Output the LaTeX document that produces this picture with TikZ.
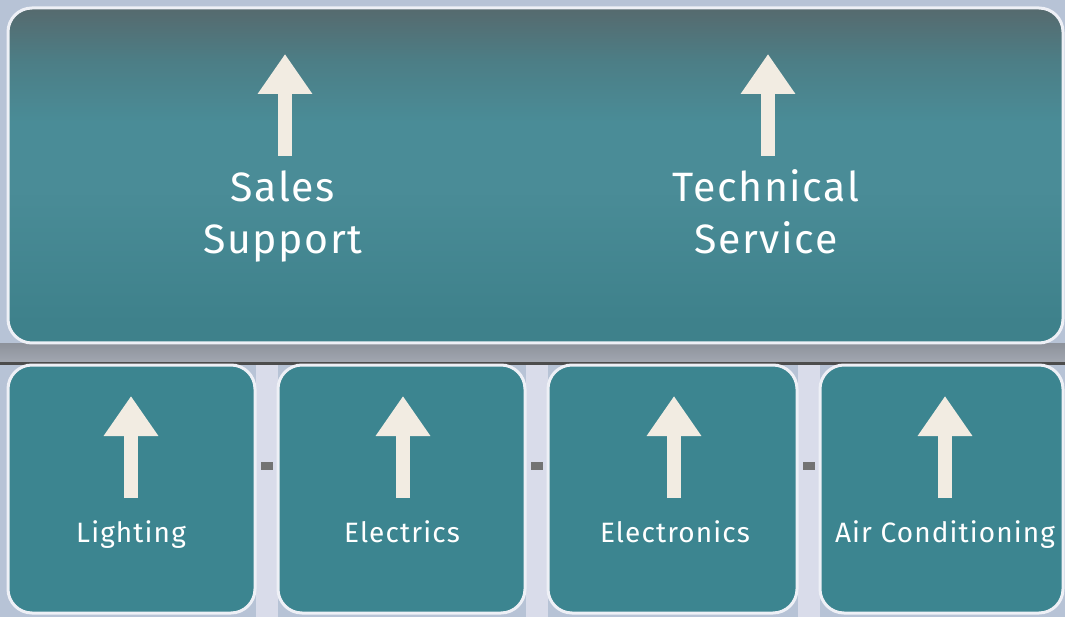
\documentclass[tikz,border=0pt]{standalone}
\usepackage{fontspec}
\setmainfont{Fira Sans}[LetterSpace=4]
\usetikzlibrary{arrows.meta}
\definecolor{bgc}{HTML}{B7C3D6}
\definecolor{bar}{HTML}{8E939C}
\definecolor{barlo}{HTML}{A3A8B2}
\definecolor{pillar}{HTML}{D9DCEA}
\definecolor{tealtop}{HTML}{566A6E}
\definecolor{tealup}{HTML}{4C7E86}
\definecolor{tealmid}{HTML}{4A8C97}
\definecolor{tealbot}{HTML}{3E818B}
\definecolor{tealb1}{HTML}{3C8590}
\definecolor{tealb2}{HTML}{4A939E}
\definecolor{arrowc}{HTML}{F2ECE2}
\definecolor{rim}{HTML}{EEF0F6}
\pgfdeclareverticalshading{topshade}{100bp}{color(0bp)=(tealbot); color(28bp)=(tealbot); color(48bp)=(tealmid); color(58bp)=(tealmid); color(67bp)=(tealup); color(75bp)=(tealtop); color(100bp)=(tealtop)}
\tikzset{
  panel/.style={draw=rim, line width=3pt, rounded corners=24pt, inner sep=0pt},
  toppanel/.style={panel, shading=topshade},
  botpanel/.style={panel, top color=tealb1, middle color=tealb2, bottom color=tealb1},
  uparrow/.style={draw=arrowc, line width=14pt, -{Triangle[width=52pt,length=40pt]}},
  bigtext/.style={text=white, font=\fontsize{41}{52}\selectfont, anchor=base, inner sep=0pt},
  smalltext/.style={text=white, font=\fontsize{28}{32}\selectfont, anchor=base, inner sep=0pt}
}
\begin{document}
\begin{tikzpicture}[x=1pt,y=-1pt]
\useasboundingbox (0,0) rectangle (1065,617);
\fill[bgc] (0,0) rectangle (1065,617);
% beam and pillars
\shade[top color=bar, bottom color=barlo] (0,344) rectangle (1065,363);
\fill[black!70] (0,362) rectangle (1065,365);
\foreach \px in {256,526,798}{
  \fill[pillar] (\px,365) rectangle (\px+22,617);
  \fill[black!55] (\px+5,462) rectangle (\px+17,470);
}
% panels
\node[toppanel, minimum width=1055pt, minimum height=335pt] (top) at (535.5,175.5) {};
\node[botpanel, minimum width=247pt, minimum height=248pt] (p1) at (131.5,489) {};
\node[botpanel, minimum width=247pt, minimum height=248pt] (p2) at (401.5,489) {};
\node[botpanel, minimum width=249pt, minimum height=248pt] (p3) at (672.5,489) {};
\node[botpanel, minimum width=243pt, minimum height=248pt] (p4) at (941.5,489) {};
% top labels and arrows
\node[bigtext] (sales) at (283,202) {Sales};
\node[bigtext] (support) at (283,254) {Support};
\node[bigtext] (techn) at (766,202) {Technical};
\node[bigtext] (service) at (766,254) {Service};
\coordinate (a1s) at (285,156); \coordinate (a1e) at (285,54);
\coordinate (a2s) at (768,156); \coordinate (a2e) at (768,54);
\draw[uparrow] (a1s) -- (a1e);
\draw[uparrow] (a2s) -- (a2e);
% bottom labels and arrows
\node[smalltext] (l1) at (131,542) {Lighting};
\node[smalltext] (l2) at (402,542) {Electrics};
\node[smalltext] (l3) at (675,542) {Electronics};
\node[smalltext] (l4) at (945,542) {Air Conditioning};
\foreach \n/\ax in {b1/131,b2/403,b3/674,b4/945}{
  \coordinate (\n s) at (\ax,498);
  \coordinate (\n e) at (\ax,396);
  \draw[uparrow] (\n s) -- (\n e);
}
\end{tikzpicture}
\end{document}
